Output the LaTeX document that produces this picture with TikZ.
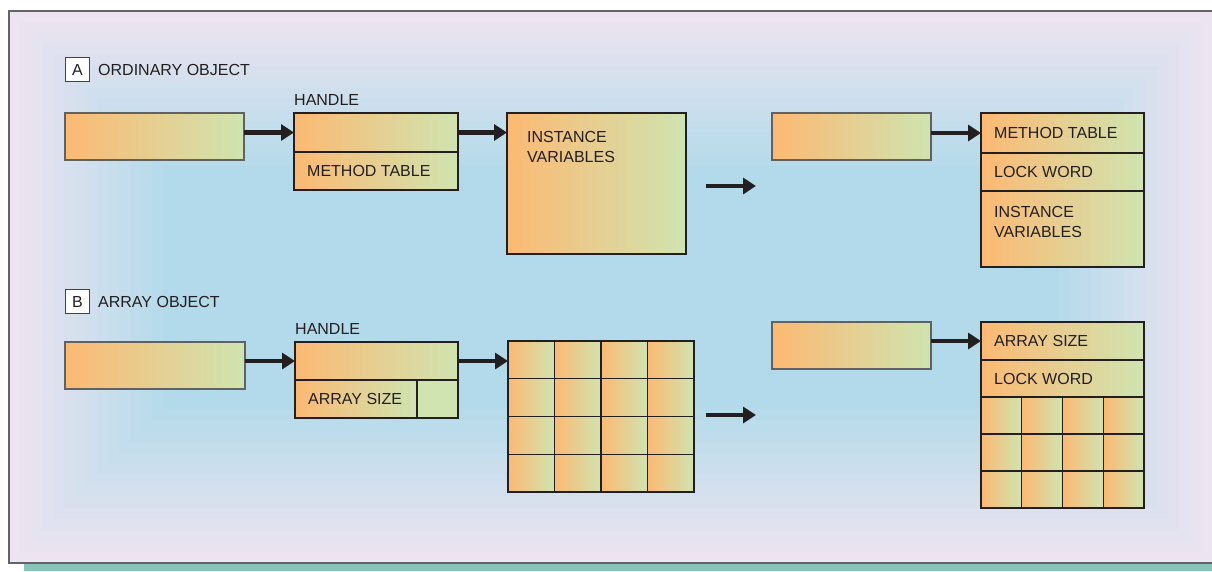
\documentclass[tikz,border=0pt]{standalone}
\usepackage{fontspec}
\setmainfont{Liberation Sans}
\usetikzlibrary{positioning, arrows.meta, calc}
\definecolor{orng}{RGB}{252, 185, 115}
\definecolor{grn}{RGB}{207, 228, 176}
\definecolor{bglav}{RGB}{237, 228, 241}
\definecolor{bgblue}{RGB}{178, 218, 234}
\definecolor{bartl}{RGB}{133, 196, 183}
\definecolor{ink}{RGB}{35, 31, 32}
\definecolor{frm}{RGB}{100, 100, 104}

\begin{document}
\begin{tikzpicture}[
    x=1pt, y=-1pt,
    font=\fontsize{16}{20}\selectfont,
    text=ink,
    cell/.style 2 args={
        rectangle, draw=ink, line width=1.2pt,
        left color=orng, right color=grn,
        minimum width=#1, minimum height=#2,
        inner sep=0pt, outer sep=0pt, anchor=north west,
    },
    ptr/.style 2 args={cell={#1}{#2}, draw=black!62},
    tag/.style={
        rectangle, draw=ink!85, fill=white, line width=1pt,
        minimum size=24pt, inner sep=0pt, anchor=north west,
    },
    txt/.style={inner sep=0pt, align=left},
    arrow/.style={-{Triangle[length=13pt, width=16pt]}, line width=4.5pt, draw=ink},
]

\useasboundingbox (0,0) rectangle (1212,571);
\clip (0,0) rectangle (1212,571);

% =================================================
% Background panel
% =================================================
\fill[white] (0,0) rectangle (1212,571);
\fill[bartl] (24,564) rectangle (1212,571);
\foreach \i [evaluate=\i as \p using int(100*\i/14)] in {0,...,14}
    \fill[bgblue!\p!bglav] (9+11*\i, 11+11*\i) rectangle (1212-11*\i, 563-11*\i);
\draw[frm, line width=1.6pt] (1220,11) -- (9,11) -- (9,563) -- (1220,563);

% =================================================
% A: ordinary object
% =================================================
\node[tag] (tagA) at (65,57) {A};
\node[txt, right=8pt of tagA] (lblA) {ORDINARY OBJECT};

\node[ptr={179pt}{47pt}] (pA) at (65,113) {};

\node[cell={164pt}{39pt}] (hAt) at (294,113) {};
\node[cell={164pt}{38pt}] (hAm) at (hAt.south west) {};
\node[txt, right=13pt of hAm.west] {METHOD TABLE};
\node[txt, above=7pt of hAt.north west, anchor=south west] {HANDLE};

\node[cell={179pt}{141pt}] (iA) at (507,113) {};
\node[txt, anchor=north west] at ([shift={(20pt,-18pt)}]iA.north west) {INSTANCE\\VARIABLES};

\node[ptr={159pt}{47pt}] (pB) at (772,113) {};

\node[cell={163pt}{40pt}] (oAt) at (981,113) {};
\node[cell={163pt}{38pt}] (oAl) at (oAt.south west) {};
\node[cell={163pt}{76pt}] (oAi) at (oAl.south west) {};
\node[txt, right=13pt of oAt.west] {METHOD TABLE};
\node[txt, right=13pt of oAl.west] {LOCK WORD};
\node[txt, anchor=north west] at ([shift={(13pt,-15pt)}]oAi.north west) {INSTANCE\\VARIABLES};

\coordinate (mAs) at (706,186);
\coordinate (mAe) at (756,186);

\draw[arrow] (pA.east |- hAt.west) -- (hAt.west);
\draw[arrow] (hAt.east) -- (hAt.east -| iA.west);
\draw[arrow] (mAs) -- (mAe);
\draw[arrow] (pB.east |- oAt.west) -- (oAt.west);

% =================================================
% B: array object
% =================================================
\node[tag] (tagB) at (65,289) {B};
\node[txt, right=8pt of tagB] (lblB) {ARRAY OBJECT};

\node[ptr={180pt}{47pt}] (pC) at (65,342) {};

\node[cell={163pt}{38pt}] (hBt) at (295,342) {};
\node[cell={122pt}{38pt}] (hBs) at (hBt.south west) {};
\node[cell={41pt}{38pt}, left color=grn] (hBx) at (hBs.north east) {};
\node[txt, right=13pt of hBs.west] {ARRAY SIZE};
\node[txt, above=7pt of hBt.north west, anchor=south west] {HANDLE};

\foreach \r in {1,...,4}
    \foreach \c in {1,...,4}
        \node[cell={46.5pt}{37.75pt}] (g\r\c) at ({508+46.5*(\c-1)}, {341+37.75*(\r-1)}) {};

\node[ptr={159pt}{47pt}] (pD) at (772,322) {};

\node[cell={163pt}{38pt}] (oBt) at (981,322) {};
\node[cell={163pt}{37pt}] (oBl) at (oBt.south west) {};
\node[txt, right=13pt of oBt.west] {ARRAY SIZE};
\node[txt, right=13pt of oBl.west] {LOCK WORD};
\foreach \r in {1,...,3}
    \foreach \c in {1,...,4}
        \node[cell={40.75pt}{37pt}] (k\r\c) at ({981+40.75*(\c-1)}, {397+37*(\r-1)}) {};

\coordinate (mBs) at (706,415);
\coordinate (mBe) at (756,415);

\draw[arrow] (pC.east |- hBt.west) -- (hBt.west);
\draw[arrow] (hBt.east) -- (hBt.east -| g11.west);
\draw[arrow] (mBs) -- (mBe);
\draw[arrow] (pD.east |- oBt.west) -- (oBt.west);

\end{tikzpicture}
\end{document}
